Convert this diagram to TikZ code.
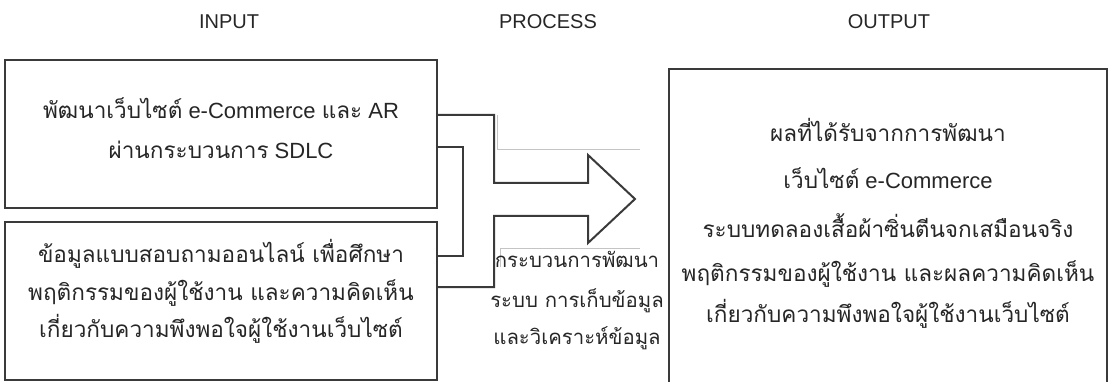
\documentclass[tikz,border=0pt]{standalone}
\usepackage{fontspec}
\setmainfont{Liberation Sans}
\newfontfamily\thaifont[Script=Thai,Scale=1.025]{Loma}
\newfontfamily\thaifontp[Script=Thai,Scale=1.1]{Loma}
\newcommand\T[1]{{\thaifont #1}}
\newcommand\TP[1]{{\thaifontp #1}}
\definecolor{lineC}{HTML}{3A3A3A}
\definecolor{faintC}{HTML}{C4C4C4}
\definecolor{textC}{HTML}{262626}
\begin{document}
\begin{tikzpicture}[x=1pt,y=-1pt,line join=miter,
  boxst/.style={draw=lineC,line width=2pt,inner sep=0pt,outer sep=0pt},
  txt/.style={anchor=base,inner sep=0pt,text=textC,font=\fontsize{22}{26}\selectfont},
  ptxt/.style={anchor=base,inner sep=0pt,text=textC,font=\fontsize{18.5}{22}\selectfont},
  head/.style={anchor=base,inner sep=0pt,text=textC,font=\fontsize{20}{24}\selectfont},
  conn/.style={draw=lineC,line width=2pt},
  faint/.style={draw=faintC,line width=1pt}]
\useasboundingbox (0,0) rectangle (1108,382);
\clip (0,0) rectangle (1108,382);
% headers
\node[head] (hin) at (229,29) {INPUT};
\node[head] (hpr) at (548,29) {PROCESS};
\node[head] (hout) at (889,29) {OUTPUT};
% boxes
\node[boxst,minimum width=432pt,minimum height=148pt] (b1) at (221,134) {};
\node[boxst,minimum width=432pt,minimum height=158pt] (b2) at (221,301) {};
\node[boxst,minimum width=438pt,minimum height=340pt,anchor=north west] (out) at (669,69) {};
% faint guide lines
\coordinate (g1) at (497,115);
\coordinate (g2) at (497,150);
\coordinate (g3) at (640,150);
\coordinate (g4) at (500,267);
\coordinate (g5) at (500,248);
\coordinate (g6) at (640,248);
\draw[faint] (g1) -- (g2) -- (g3);
\draw[faint] (g4) -- (g5) -- (g6);
% block arrow connector
\coordinate (tip) at (635,199);
\draw[conn] ([yshift=19pt]b1.east) -| (494,183) -- (588,183) -- (588,155) -- (tip)
  -- (588,243) -- (588,216) -- (494,216) |- ([yshift=14pt]b2.east);
% bracket connector
\draw[conn] ([yshift=-13pt]b1.east) -| (463,256) -- ([yshift=45pt]b2.east);
% box 1 text
\node[txt] (t11) at (221,119) {\T{พัฒนาเว็บไซต์} e-Commerce \T{และ} AR};
\node[txt] (t12) at (221,159) {\T{ผ่านกระบวนการ} SDLC};
% box 2 text
\node[txt] (t21) at (221,262) {\T{ข้อมูลแบบสอบถามออนไลน์ เพื่อศึกษา}};
\node[txt] (t22) at (221,300) {\T{พฤติกรรมของผู้ใช้งาน และความคิดเห็น}};
\node[txt] (t23) at (221,337) {\T{เกี่ยวกับความพึงพอใจผู้ใช้งานเว็บไซต์}};
% process text
\node[ptxt] (p1) at (577,267) {\TP{กระบวนการพัฒนา}};
\node[ptxt] (p2) at (577,307) {\TP{ระบบ การเก็บข้อมูล}};
\node[ptxt] (p3) at (577,344) {\TP{และวิเคราะห์ข้อมูล}};
% output text
\node[txt] (o1) at (888,142) {\T{ผลที่ได้รับจากการพัฒนา}};
\node[txt] (o2) at (888,189) {\T{เว็บไซต์} e-Commerce};
\node[txt] (o3) at (888,237) {\T{ระบบทดลองเสื้อผ้าซิ่นตีนจกเสมือนจริง}};
\node[txt] (o4) at (888,281) {\T{พฤติกรรมของผู้ใช้งาน และผลความคิดเห็น}};
\node[txt] (o5) at (888,322) {\T{เกี่ยวกับความพึงพอใจผู้ใช้งานเว็บไซต์}};
\end{tikzpicture}
\end{document}
